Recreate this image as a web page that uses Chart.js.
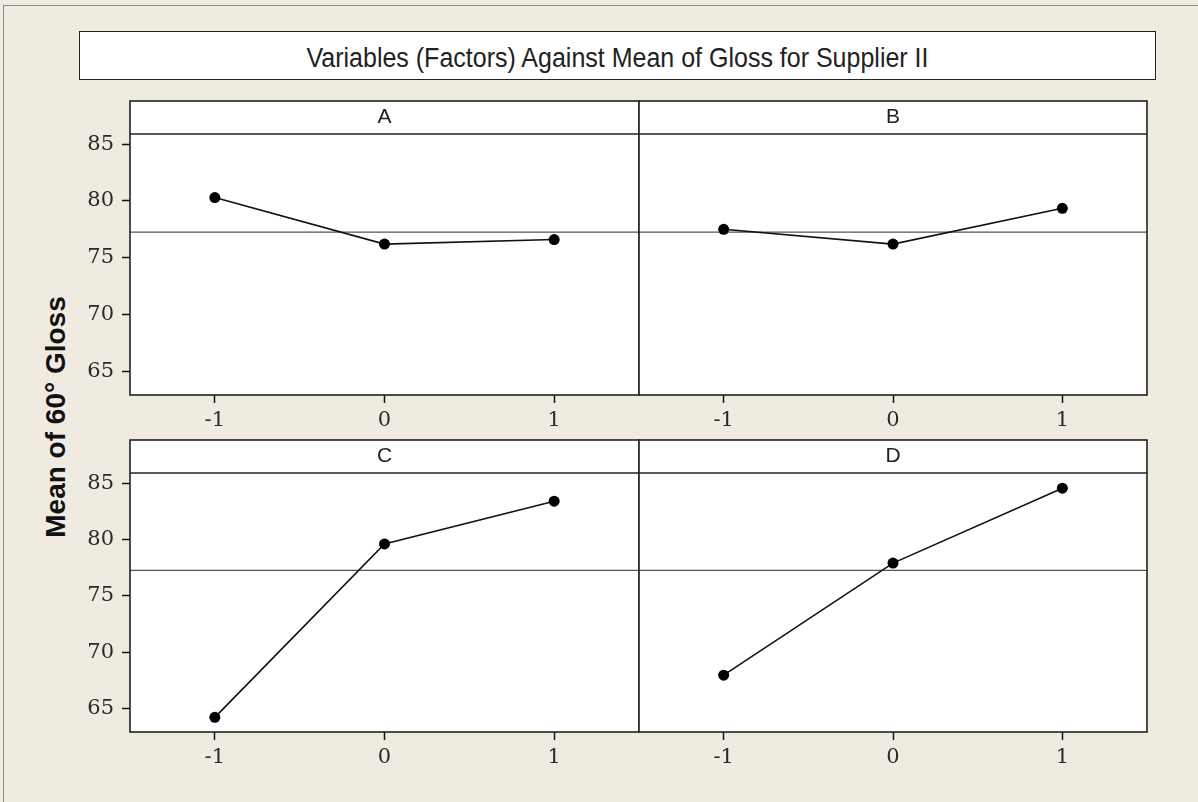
<!DOCTYPE html>
<html><head><meta charset="utf-8">
<script src="https://cdn.jsdelivr.net/npm/chart.js@4.4.1/dist/chart.umd.min.js"></script>
<style>
html,body{margin:0;padding:0;}
body{width:1198px;height:802px;background:#F0EBE1;position:relative;overflow:hidden;font-family:'Liberation Sans',Arial,sans-serif;}
#frame{position:absolute;left:3px;top:5px;width:1300px;height:900px;border-left:1.5px solid #8a8a8a;border-top:1.5px solid #8a8a8a;}
#title{position:absolute;left:79px;top:31px;width:1075px;height:47px;border:1.5px solid #222;background:#fff;text-align:center;line-height:50px;font-size:25px;color:#222;white-space:nowrap;}
#title span{display:inline-block;transform:scaleY(1.1);}
#ylabel{position:absolute;left:56px;top:417px;transform:translate(-50%,-50%) rotate(-90deg);font-weight:bold;font-size:28px;white-space:nowrap;color:#111;}
canvas{position:absolute;left:0;top:0;}
</style></head>
<body>
<div id="frame"></div>
<div id="title"><span>Variables (Factors) Against Mean of Gloss for Supplier II</span></div>
<div id="ylabel">Mean of 60° Gloss</div>
<canvas id="c0" width="1198" height="802"></canvas>
<canvas id="c1" width="1198" height="802"></canvas>
<canvas id="c2" width="1198" height="802"></canvas>
<canvas id="c3" width="1198" height="802"></canvas>
<script>
// ---- data ----
const xTickValues = [-1, 0, 1];
const yTickValues = [65, 70, 75, 80, 85];
const factors = ['A', 'B', 'C', 'D'];
const meanA = [80.3, 76.2, 76.6];
const meanB = [77.5, 76.2, 79.35];
const meanC = [64.2, 79.6, 83.4];
const meanD = [67.95, 77.9, 84.55];
const grandMean = 77.25;
const yMin = 62.9, yMax = 85.9;
const xMin = -1.5, xMax = 1.5;

// ---- layout (pixel boxes of each panel, strip top to plot bottom) ----
const W = 1198, H = 802;
const X_AXIS_H = 45;
const panelBoxes = [
  {left:130, top:101, right:639, bottom:395, yTicks:true},
  {left:639, top:101, right:1147, bottom:395, yTicks:false},
  {left:130, top:440, right:639, bottom:732, yTicks:true},
  {left:639, top:440, right:1147, bottom:732, yTicks:false}
];
const seriesList = [meanA, meanB, meanC, meanD];

const tickFont = {family:"'DejaVu Serif', 'Liberation Serif', serif", size:21};

const panelPlugin = {
  id:'panelFrame',
  beforeDraw(chart){
    const {ctx, chartArea:a} = chart; const tb = chart.titleBlock;
    ctx.save();
    ctx.fillStyle = '#ffffff';
    ctx.fillRect(a.left, tb.top, a.right - a.left, a.bottom - tb.top);
    ctx.restore();
  },
  beforeDatasetsDraw(chart){
    const {ctx, chartArea:a} = chart;
    const y = chart.scales.y.getPixelForValue(grandMean);
    ctx.save();
    ctx.strokeStyle = '#555';
    ctx.lineWidth = 1.3;
    ctx.beginPath(); ctx.moveTo(a.left, y); ctx.lineTo(a.right, y); ctx.stroke();
    ctx.restore();
  },
  afterDraw(chart){
    const {ctx, chartArea:a} = chart; const tb = chart.titleBlock;
    ctx.save();
    ctx.strokeStyle = '#222';
    ctx.lineWidth = 1.6;
    ctx.strokeRect(a.left, tb.top, a.right - a.left, a.bottom - tb.top);
    ctx.beginPath(); ctx.moveTo(a.left, a.top); ctx.lineTo(a.right, a.top); ctx.stroke();
    ctx.restore();
  }
};

panelBoxes.forEach((b, i) => {
  const series = seriesList[i];
  const padLeft = b.yTicks ? 0 : b.left;
  new Chart(document.getElementById('c' + i), {
    type: 'line',
    data: {
      datasets: [{
        data: xTickValues.map((x, k) => ({x: x, y: series[k]})),
        borderColor: '#111',
        borderWidth: 1.6,
        pointRadius: 5.5,
        pointBackgroundColor: '#000',
        pointBorderColor: '#000',
        pointBorderWidth: 0,
        tension: 0,
        fill: false
      }]
    },
    options: {
      responsive: false,
      animation: false,
      devicePixelRatio: 1,
      layout: {padding: {left: padLeft, top: b.top, right: W - b.right, bottom: H - b.bottom - X_AXIS_H}},
      plugins: {
        legend: {display: false},
        tooltip: {enabled: false},
        title: {
          display: true, text: factors[i], color: '#222', fullSize: false,
          font: {family: "'Liberation Sans', Arial, sans-serif", size: 21, weight: 'normal', lineHeight: 1.2},
          padding: {top: 4, bottom: 3.8}
        }
      },
      scales: {
        x: {
          type: 'linear', min: xMin, max: xMax,
          afterBuildTicks: s => { s.ticks = xTickValues.map(v => ({value: v})); },
          afterFit: s => { s.height = X_AXIS_H; },
          grid: {display: true, drawOnChartArea: false, drawTicks: true, tickLength: 8, tickWidth: 1.5, tickColor: '#111'},
          border: {display: false},
          ticks: {font: tickFont, color: '#2a2a2a', padding: 5, maxRotation: 0, autoSkip: false, callback: v => String(v)}
        },
        y: {
          type: 'linear', min: yMin, max: yMax, display: b.yTicks,
          afterBuildTicks: s => { s.ticks = yTickValues.map(v => ({value: v})); },
          afterFit: s => { if (b.yTicks) s.width = b.left; },
          grid: {display: true, drawOnChartArea: false, drawTicks: true, tickLength: 8, tickWidth: 1.5, tickColor: '#111'},
          border: {display: false},
          ticks: {font: tickFont, color: '#2a2a2a', padding: 8, autoSkip: false, callback: v => String(v)}
        }
      }
    },
    plugins: [panelPlugin]
  });
});
</script>
</body></html>
